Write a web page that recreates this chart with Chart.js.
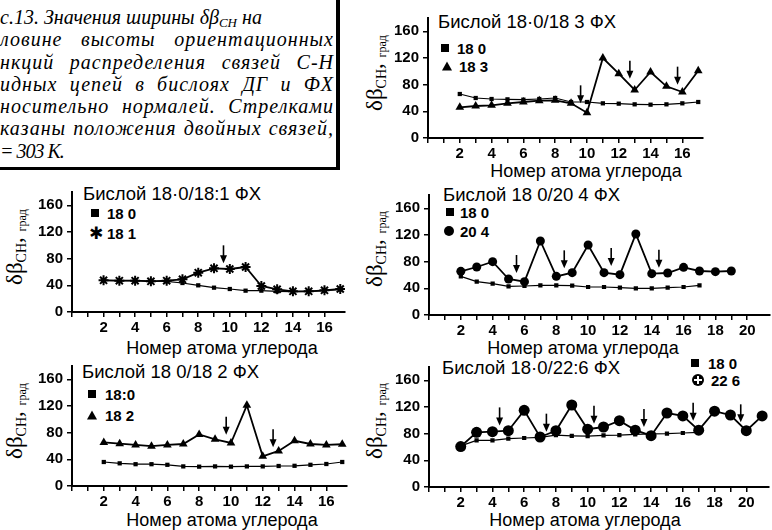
<!DOCTYPE html>
<html>
<head>
<meta charset="utf-8">
<script src="https://cdn.jsdelivr.net/npm/chart.js@4.4.0/dist/chart.umd.min.js"></script>
<style>
  body { margin: 0; width: 772px; height: 530px; position: relative; overflow: hidden; background: #fff; color: #000;
         font-family: "Liberation Sans", Arial, sans-serif; }
  canvas { position: absolute; }
  .t { position: absolute; white-space: nowrap; line-height: 1; }
  .ptitle { font-size: 18.5px; }
  .xtitle { font-size: 18px; transform: translate(-50%, -50%); }
  .leg { font-size: 15px; font-weight: bold; font-family: "Liberation Sans Narrow", "Liberation Sans", Arial, sans-serif; transform: translateY(-50%); }
  .ylab { position: absolute; width: 120px; height: 28px; line-height: 28px; text-align: center; transform: rotate(-90deg);
          font-family: "Liberation Serif", "DejaVu Serif", serif; font-size: 23px; white-space: nowrap; }
  .ylab sub { font-size: 14px; vertical-align: -4px; }
  .ylab small { font-size: 12px; vertical-align: -4px; }
  .msq { position: absolute; width: 8px; height: 8px; background: #000; transform: translate(-50%, -50%); }
  .mtri { position: absolute; width: 0; height: 0; border-left: 5px solid transparent; border-right: 5px solid transparent;
          border-bottom: 9px solid #000; transform: translate(-50%, -50%); }
  .mcir { position: absolute; width: 10px; height: 10px; border-radius: 50%; background: #000; transform: translate(-50%, -50%); }
  .mplus { position: absolute; width: 12px; height: 12px; border-radius: 50%; background: #000; transform: translate(-50%, -50%); }
  .mplus:before { content: ""; position: absolute; left: 5px; top: 2px; width: 2px; height: 8px; background: #fff; }
  .mplus:after { content: ""; position: absolute; left: 2px; top: 5px; width: 8px; height: 2px; background: #fff; }
  .mstar { position: absolute; font-size: 17px; font-family: "DejaVu Sans", sans-serif; transform: translate(-50%, -50%); line-height: 1; }
  #note { position: absolute; left: -10px; top: -10px; width: 334px; height: 161px; padding: 16px 2px 0 10px;
          border-right: 4px solid #000; border-bottom: 3px solid #000;
          font-family: "Liberation Serif", "DejaVu Serif", serif; font-style: italic; font-size: 20px; }
  #note .ln { height: 22.3px; line-height: 22.3px; white-space: nowrap; }
  #note .j { text-align: justify; text-align-last: justify; white-space: normal; letter-spacing: 1px; }
  #note .end { letter-spacing: -1px; }
  #note sub { font-size: 13px; vertical-align: -3px; }
</style>
</head>
<body>

<div id="note">
  <div class="ln">с.13. Значения ширины δβ<sub>CH</sub> на</div>
  <div class="ln j">ловине высоты ориентационных</div>
  <div class="ln j">нкций распределения связей С-Н</div>
  <div class="ln j">идных цепей в бислоях ДГ и ФХ</div>
  <div class="ln j">носительно нормалей. Стрелками</div>
  <div class="ln j">казаны положения двойных связей,</div>
  <div class="ln end">= 303 K.</div>
</div>

<div id="labels"></div>

<script>
// carbon numbers
var carbons17 = [2, 3, 4, 5, 6, 7, 8, 9, 10, 11, 12, 13, 14, 15, 16, 17];
var carbons19 = [2, 3, 4, 5, 6, 7, 8, 9, 10, 11, 12, 13, 14, 15, 16, 17, 18, 19];
var carbons21 = [2, 3, 4, 5, 6, 7, 8, 9, 10, 11, 12, 13, 14, 15, 16, 17, 18, 19, 20, 21];

// y ticks
var yTicks = [0, 40, 80, 120, 160];

// 18:0/18:3
var p1Sat = [66, 60, 58.5, 58, 57.5, 58.5, 60, 54, 54, 52, 51.5, 50.5, 50, 50.5, 52, 54];
var p1Unsat = [46, 48, 49, 52, 54, 56, 56.5, 52, 38, 120, 96.5, 72, 99, 77.5, 69, 101];
var p1ArrowX = [9.6, 12.7, 15.7];
var p1ArrowTip = [52, 89, 80];

// 18:0/18:1
var p2Sat = [47.5, 47, 47, 46.5, 46, 43.5, 40, 36.5, 34.5, 32, 32, 31, 30.5, 31, 32, 34];
var p2Unsat = [47.5, 47, 47, 46, 47, 49, 59, 65.5, 64.5, 67.5, 39, 34, 31, 31, 32.5, 34.5];
var p2ArrowX = [9.6];
var p2ArrowTip = [73];

// 18:0/20:4
var p3Sat = [58, 50, 47, 43, 43.5, 44.5, 44.5, 44, 42, 42, 41, 40, 40, 41, 42, 44.5];
var p3Unsat = [65.5, 72, 80, 54, 50, 111, 58, 63.5, 105, 63.5, 60.5, 121.5, 62, 63, 71.5, 66, 65, 66];
var p3ArrowX = [5.5, 8.5, 11.45, 14.45];
var p3ArrowTip = [63, 70, 73.5, 71];

// 18:0/18:2
var p4Sat = [36, 34, 32.7, 32.7, 31.8, 29.4, 29, 29.4, 29, 29.4, 29.4, 30, 30.3, 31.8, 33, 36];
var p4Unsat = [65.4, 63.5, 61.6, 59.7, 61.6, 63, 77.3, 70, 64.5, 121, 44.5, 52.6, 67.8, 63, 61.6, 62.6];
var p4ArrowX = [9.7, 12.65];
var p4ArrowTip = [77, 58];

// 18:0/22:6
var p5Sat = [61.6, 70, 70, 72.5, 73.5, 74.4, 77.7, 76.8, 76.3, 77.3, 77.7, 79, 79.6, 80, 81, 82];
var p5Unsat = [60.7, 82, 83, 84.4, 115, 75, 84.4, 123, 86.7, 90, 99.5, 85.3, 77, 111, 106.6, 85.3, 113.7, 108, 84.4, 106.6];
var p5ArrowX = [4.45, 7.4, 10.4, 13.55, 16.65, 19.65];
var p5ArrowTip = [92.4, 83, 95, 90, 99.5, 97];

var tickFont = { family: "'Liberation Sans Narrow', 'Liberation Sans', Arial, sans-serif", size: 15, weight: 'bold' };

function pairs(xs, ys) {
  var out = [];
  for (var i = 0; i < ys.length; i++) out.push({ x: xs[i], y: ys[i] });
  return out;
}

function arrowPlugin(ax, tips) {
  return {
    id: 'arrows',
    afterDatasetsDraw: function (chart) {
      var ctx = chart.ctx, xs = chart.scales.x, ys = chart.scales.y;
      ctx.save();
      ctx.strokeStyle = '#000';
      ctx.fillStyle = '#000';
      ctx.lineWidth = 1.6;
      for (var i = 0; i < ax.length; i++) {
        var px = xs.getPixelForValue(ax[i]);
        var tip = ys.getPixelForValue(tips[i]);
        ctx.beginPath();
        ctx.moveTo(px, tip - 18);
        ctx.lineTo(px, tip - 5);
        ctx.stroke();
        ctx.beginPath();
        ctx.moveTo(px, tip);
        ctx.lineTo(px - 3.5, tip - 8);
        ctx.lineTo(px + 3.5, tip - 8);
        ctx.closePath();
        ctx.fill();
      }
      ctx.restore();
    }
  };
}

// p: left of x=0, bottom of y=0, x max, last labelled x, series, markers, arrows
function makePanel(p) {
  var unitX = 16, plotH = 127.4, yAxisW = 44, xAxisH = 24, padTop = 6, padRight = 3;
  var cv = document.createElement('canvas');
  var left = Math.round(p.x0 - yAxisW), top = Math.round(p.bottom - plotH - padTop);
  cv.width = Math.round(yAxisW + p.xMax * unitX + padRight);
  cv.height = Math.round(padTop + plotH + xAxisH);
  cv.style.left = left + 'px';
  cv.style.top = top + 'px';
  document.body.appendChild(cv);

  new Chart(cv, {
    type: 'line',
    data: {
      datasets: [{
        data: pairs(p.xs1, p.sat),
        borderColor: '#000', backgroundColor: '#000', borderWidth: 1.2,
        pointStyle: 'rect', pointRadius: 3, pointBorderWidth: 0, tension: 0
      }, {
        data: pairs(p.xs2, p.unsat),
        borderColor: '#000', backgroundColor: '#000', borderWidth: 1.8,
        pointStyle: p.marker, pointRadius: p.radius, pointBorderWidth: p.marker == 'star' ? 2 : 0, tension: 0
      }]
    },
    options: {
      responsive: false,
      devicePixelRatio: 1,
      animation: false,
      layout: { padding: { top: padTop, right: padRight, left: 0, bottom: 0 } },
      plugins: { legend: { display: false }, tooltip: { enabled: false } },
      scales: {
        x: {
          type: 'linear', min: 0, max: p.xMax,
          afterFit: function (s) { s.height = xAxisH; },
          afterBuildTicks: function (s) { s.ticks = s.ticks.filter(function (t) { return Number.isInteger(t.value); }); },
          border: { display: true, color: '#000', width: 2 },
          grid: { drawOnChartArea: false, drawTicks: true, tickLength: 5, color: '#000', lineWidth: 1.5 },
          ticks: {
            stepSize: 1, autoSkip: false, maxRotation: 0, color: '#000', font: tickFont, padding: 2,
            callback: function (v) { return (v % 2 === 0 && v >= 2 && v <= p.lastLabel) ? String(v) : ''; }
          }
        },
        y: {
          min: 0, max: 180,
          afterFit: function (s) { s.width = yAxisW; },
          border: { display: true, color: '#000', width: 2 },
          grid: { drawOnChartArea: false, drawTicks: true, tickLength: 5, color: '#000', lineWidth: 1.5 },
          ticks: {
            stepSize: 20, color: '#000', font: tickFont, padding: 4,
            callback: function (v) { return yTicks.indexOf(v) >= 0 ? String(v) : ''; }
          }
        }
      }
    },
    plugins: [arrowPlugin(p.arrowX, p.arrowTip)]
  });

  // text around the plot
  var box = document.getElementById('labels');
  var midY = p.bottom - plotH / 2 - 2;
  var html = '';
  html += '<div class="t ptitle" style="left:' + p.titleX + 'px;top:' + (p.titleY - 9) + 'px">' + p.title + '</div>';
  html += '<div class="t xtitle" style="left:' + p.xtX + 'px;top:' + p.xtY + 'px">Номер атома углерода</div>';
  html += '<div class="ylab" style="left:' + (p.ylX - 60) + 'px;top:' + (midY - 14) + 'px">δβ<sub>CH</sub>, <small>град</small></div>';
  html += '<div class="msq" style="left:' + p.leg[0] + 'px;top:' + p.leg[1] + 'px"></div>';
  html += '<div class="t leg" style="left:' + p.leg[2] + 'px;top:' + p.leg[1] + 'px">' + p.names[0] + '</div>';
  html += '<div class="' + p.legMark + '" style="left:' + p.leg[3] + 'px;top:' + p.leg[4] + 'px">' + (p.legMark == 'mstar' ? '✱' : '') + '</div>';
  html += '<div class="t leg" style="left:' + p.leg[5] + 'px;top:' + p.leg[4] + 'px">' + p.names[1] + '</div>';
  box.insertAdjacentHTML('beforeend', html);
}

makePanel({
  x0: 428, bottom: 138.5, xMax: 17.3, lastLabel: 16,
  xs1: carbons17, sat: p1Sat, xs2: carbons17, unsat: p1Unsat, marker: 'triangle', radius: 5,
  arrowX: p1ArrowX, arrowTip: p1ArrowTip,
  title: 'Бислой 18·0/18 3 ФХ', titleX: 438, titleY: 22, xtX: 586, xtY: 171, ylX: 375,
  names: ['18 0', '18 3'], legMark: 'mtri', leg: [445, 48, 457, 447, 66, 459]
});

makePanel({
  x0: 71.5, bottom: 312.7, xMax: 17.3, lastLabel: 16,
  xs1: carbons17, sat: p2Sat, xs2: carbons17, unsat: p2Unsat, marker: 'star', radius: 5,
  arrowX: p2ArrowX, arrowTip: p2ArrowTip,
  title: 'Бислой 18·0/18:1 ФХ', titleX: 83, titleY: 194, xtX: 222, xtY: 348, ylX: 15,
  names: ['18 0', '18 1'], legMark: 'mstar', leg: [95, 213, 107, 96, 233, 107]
});

makePanel({
  x0: 429, bottom: 315, xMax: 21.4, lastLabel: 20,
  xs1: carbons17, sat: p3Sat, xs2: carbons19, unsat: p3Unsat, marker: 'circle', radius: 4.5,
  arrowX: p3ArrowX, arrowTip: p3ArrowTip,
  title: 'Бислой 18 0/20 4 ФХ', titleX: 443, titleY: 195, xtX: 583, xtY: 348, ylX: 375,
  names: ['18 0', '20 4'], legMark: 'mcir', leg: [450, 212, 460, 449, 231, 460]
});

makePanel({
  x0: 71.5, bottom: 486.5, xMax: 17.3, lastLabel: 16,
  xs1: carbons17, sat: p4Sat, xs2: carbons17, unsat: p4Unsat, marker: 'triangle', radius: 5,
  arrowX: p4ArrowX, arrowTip: p4ArrowTip,
  title: 'Бислой 18 0/18 2 ФХ', titleX: 82, titleY: 372, xtX: 222, xtY: 520, ylX: 15,
  names: ['18:0', '18 2'], legMark: 'mtri', leg: [92, 394, 105, 92, 415, 105]
});

makePanel({
  x0: 429, bottom: 487, xMax: 21.4, lastLabel: 20,
  xs1: carbons17, sat: p5Sat, xs2: carbons21, unsat: p5Unsat, marker: 'circle', radius: 5.5,
  arrowX: p5ArrowX, arrowTip: p5ArrowTip,
  title: 'Бислой 18·0/22:6 ФХ', titleX: 442, titleY: 368, xtX: 585, xtY: 520, ylX: 375,
  names: ['18 0', '22 6'], legMark: 'mplus', leg: [695, 363, 708, 698, 380, 711]
});
</script>
</body>
</html>
